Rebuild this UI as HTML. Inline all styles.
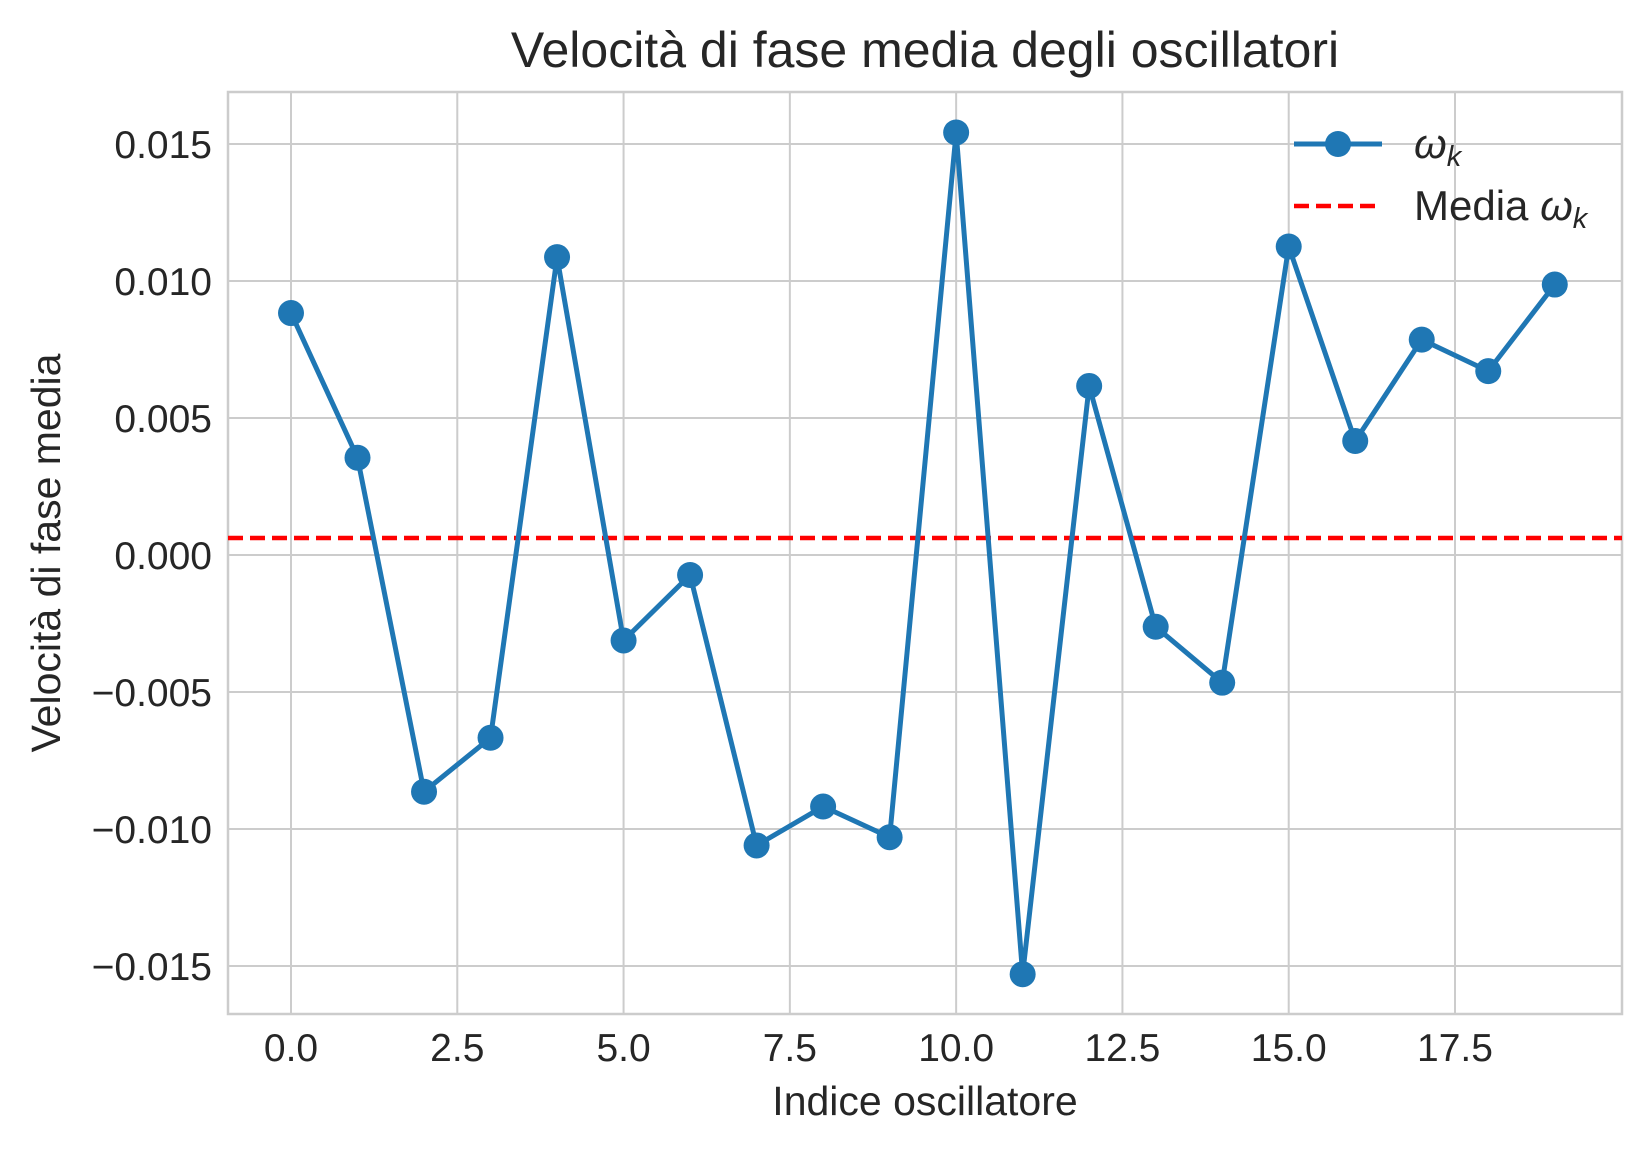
<!DOCTYPE html>
<html><head><meta charset="utf-8"><style>
html,body{margin:0;padding:0;background:#fff;}
svg{display:block;font-family:"Liberation Sans","DejaVu Sans",sans-serif;}
</style></head><body>
<svg id="chart" width="1652" height="1152" viewBox="0 0 1652 1152" xmlns="http://www.w3.org/2000/svg">
<rect width="1652" height="1152" fill="#fff"/>
<g id="grid"></g>
<g id="ticks" fill="#262626" font-size="39"></g>
<rect x="228" y="92" width="1394" height="922" fill="none" stroke="#cccccc" stroke-width="2.5"/>
<g id="series"></g>
<text x="925" y="67" text-anchor="middle" font-size="50" fill="#262626">Velocità di fase media degli oscillatori</text>
<text x="925" y="1115" text-anchor="middle" font-size="41" fill="#262626">Indice oscillatore</text>
<text transform="translate(60,553) rotate(-90)" text-anchor="middle" font-size="41" fill="#262626">Velocità di fase media</text>
<g>
<line x1="1294" y1="144" x2="1382" y2="144" stroke="#1f77b4" stroke-width="5"/>
<circle cx="1338" cy="144" r="13" fill="#1f77b4"/>
<text x="1414" y="158" font-size="42" fill="#262626" font-style="italic">ω<tspan font-size="29" dy="8">k</tspan></text>
<line x1="1294" y1="206" x2="1382" y2="206" stroke="#ff0000" stroke-width="4.5" stroke-dasharray="15,7"/>
<text x="1414" y="220" font-size="42" fill="#262626">Media <tspan font-style="italic">ω</tspan><tspan font-size="29" dy="8" font-style="italic">k</tspan></text>
</g>
</svg>
<script>
const indices = [0,1,2,3,4,5,6,7,8,9,10,11,12,13,14,15,16,17,18,19];
const omega = [0.00883,0.00355,-0.00864,-0.00667,0.01087,-0.00312,-0.00073,-0.0106,-0.00918,-0.0103,0.01542,-0.0153,0.00617,-0.00262,-0.00466,0.01126,0.00416,0.00786,0.00671,0.00987];
const meanValue = [0.00062];
const xTicks = [0,2.5,5,7.5,10,12.5,15,17.5];
const xTickLabels = ["0.0","2.5","5.0","7.5","10.0","12.5","15.0","17.5"];
const yTicks = [0.015,0.01,0.005,0,-0.005,-0.01,-0.015];
const yTickLabels = ["0.015","0.010","0.005","0.000","−0.005","−0.010","−0.015"];

const L=228,R=1622,T=92,B=1014;
const xs = v => 291 + v*(1455-291)/17.5;
const ys = v => 555 - v*(137/0.005);
const NS="http://www.w3.org/2000/svg";
function mk(tag,attrs,parent){const e=document.createElementNS(NS,tag);for(const k in attrs)e.setAttribute(k,attrs[k]);parent.appendChild(e);return e;}
const grid=document.getElementById('grid'),ticks=document.getElementById('ticks'),series=document.getElementById('series');
xTicks.forEach((t,i)=>{
  const g=mk('line',{x1:xs(t),x2:xs(t),y1:T,y2:B,stroke:'#cccccc','stroke-width':2},grid);
  
  
  const tx=mk('text',{x:xs(t),y:B+47,'text-anchor':'middle'},ticks);
  tx.textContent=xTickLabels[i];
  
  
});
yTicks.forEach((t,i)=>{
  const g=mk('line',{x1:L,x2:R,y1:ys(t),y2:ys(t),stroke:'#cccccc','stroke-width':2},grid);
  
  
  const tx=mk('text',{x:L-16,y:ys(t)+14,'text-anchor':'end'},ticks);
  tx.textContent=yTickLabels[i];
  
  
});
const ml=mk('line',{x1:L,x2:R,y1:ys(meanValue[0]),y2:ys(meanValue[0]),stroke:'#ff0000','stroke-width':4.5,'stroke-dasharray':'15,7'},series);


const pl=mk('polyline',{points:indices.map((x,i)=>xs(x)+','+ys(omega[i])).join(' '),fill:'none',stroke:'#1f77b4','stroke-width':5,'stroke-linejoin':'round'},series);


indices.forEach((x,i)=>{
  const c=mk('circle',{cx:xs(x),cy:ys(omega[i]),r:13,fill:'#1f77b4'},series);
  
  
});
</script>
</body></html>
